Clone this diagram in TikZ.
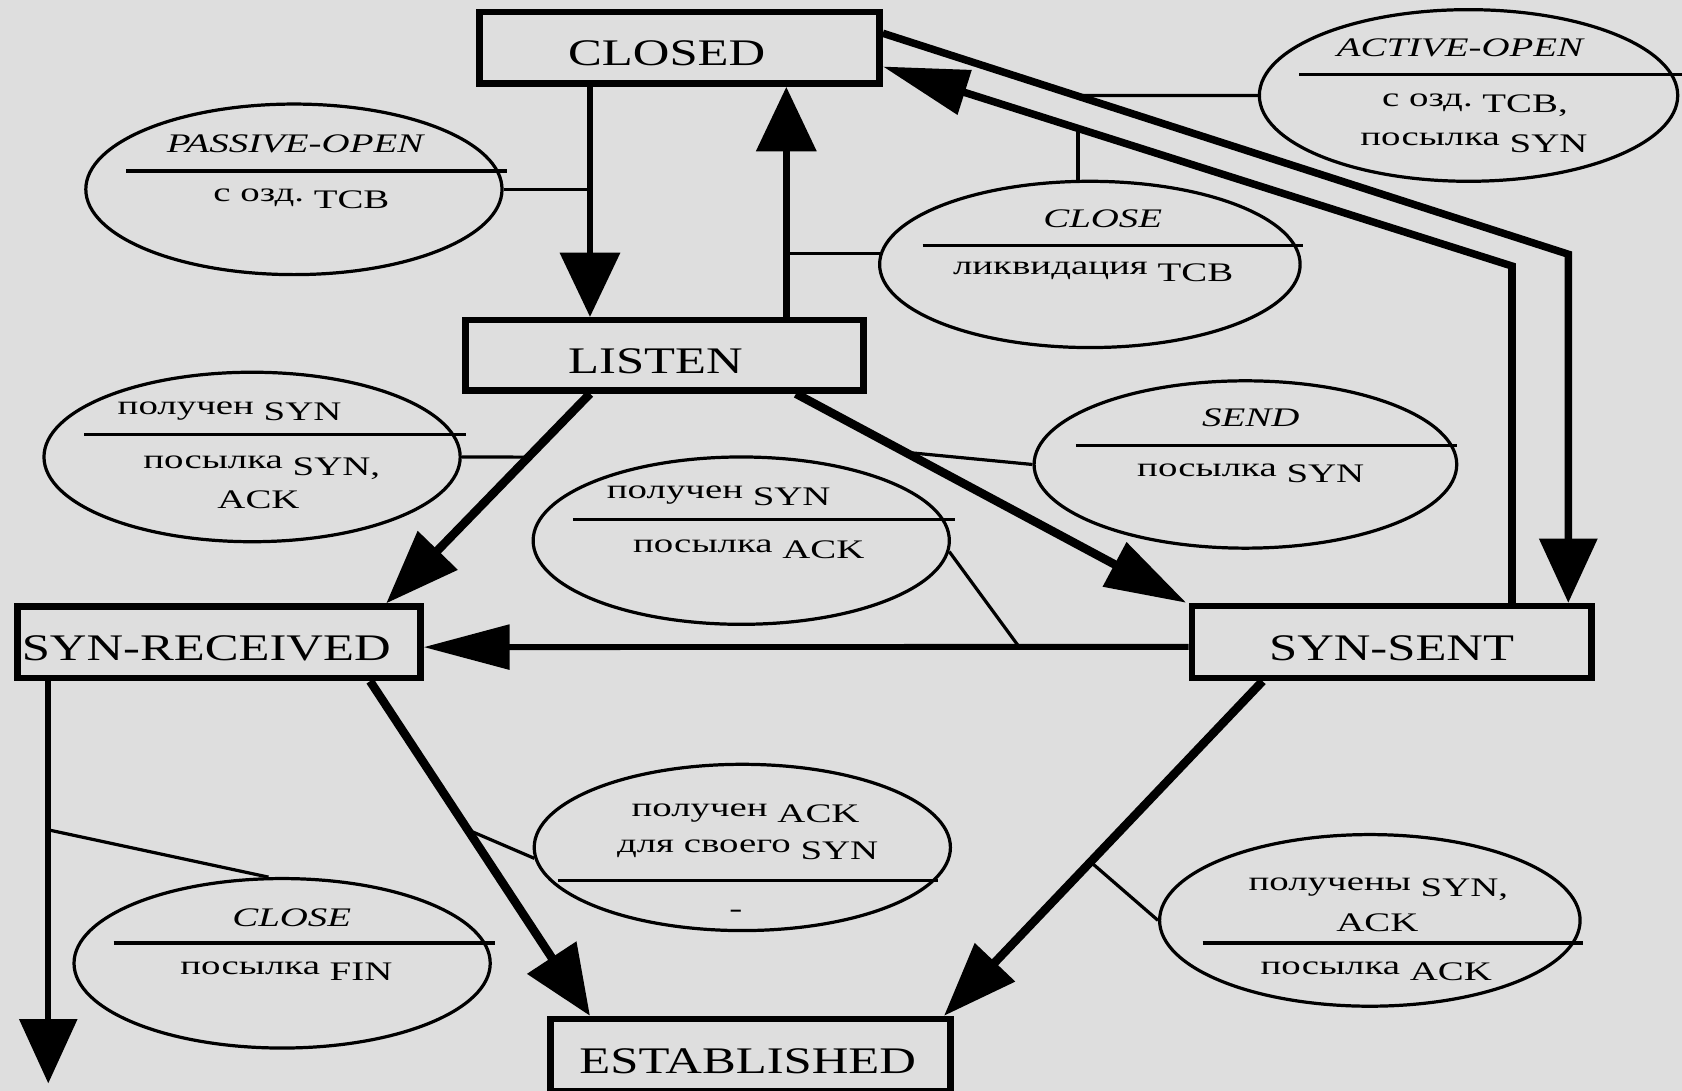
\documentclass[tikz,border=0pt]{standalone}
\usepackage{fontspec}
\usetikzlibrary{arrows.meta,calc,shapes.geometric}
\newfontfamily\boxf[FakeStretch=1.35]{Liberation Serif}
\newfontfamily\ellf[FakeStretch=1.45]{Liberation Serif}
\newcommand\cy[1]{\raisebox{6pt}{#1}}
\definecolor{bg}{RGB}{222,222,222}
\begin{document}
\begin{tikzpicture}[x=1pt,y=-1pt,
 stbox/.style={draw,line width=6pt,rectangle,inner sep=0pt,text height=34pt,text depth=0pt,font=\boxf\fontsize{35}{40}\selectfont},
 ev/.style={draw,line width=3pt,ellipse,inner sep=0pt},
 lbl/.style={anchor=base,inner sep=0pt,font=\ellf\fontsize{25}{30}\selectfont},
 ilbl/.style={anchor=base,inner sep=0pt,font=\ellf\itshape\fontsize{25}{30}\selectfont},
 divl/.style={line width=3pt},
 link/.style={line width=3pt},
 trans/.style={line width=#1,line join=miter},
 arrhead/.style 2 args={-{Triangle[length=#1,width=#2]}}
]
\useasboundingbox (0,0) rectangle (1568,1017);
\fill[bg] (0,0) rectangle (1568,1017);

% states
\node[stbox,minimum width=373pt,minimum height=67pt] (closed) at (633.5,44.5) {CLOSED\kern24pt};
\node[stbox,minimum width=371pt,minimum height=65.5pt] (listen) at (619.5,331.25) {LISTEN\kern17pt};
\node[stbox,minimum width=375.5pt,minimum height=66.5pt] (synrec) at (204.25,598.75) {SYN-RECEIVED\kern24pt};
\node[stbox,minimum width=372.5pt,minimum height=67pt] (synsent) at (1297.25,598.5) {SYN-SENT};
\node[stbox,minimum width=373pt,minimum height=67pt] (established) at (699.5,983.5) {ESTABLISHED\kern5pt};

% event ellipses
\node[ev,minimum width=388pt,minimum height=159pt] (e1) at (274,176.5) {};
\node[ev,minimum width=390pt,minimum height=160pt] (e2) at (1369,89) {};
\node[ev,minimum width=392pt,minimum height=155pt] (e3) at (1016,246.5) {};
\node[ev,minimum width=388pt,minimum height=158pt] (e4) at (235,426) {};
\node[ev,minimum width=394pt,minimum height=156pt] (e5) at (1161,433) {};
\node[ev,minimum width=388pt,minimum height=156pt] (e6) at (691,504) {};
\node[ev,minimum width=388pt,minimum height=155pt] (e7) at (692,790) {};
\node[ev,minimum width=388pt,minimum height=158pt] (e8) at (263,898) {};
\node[ev,minimum width=392pt,minimum height=160pt] (e9) at (1277,858) {};

% dividers
\draw[divl] ($(e1.center)+(-156.5,-17)$) -- ($(e1.center)+(198.5,-17)$);
\draw[divl] ($(e2.center)+(-158,-19.4)$) -- ($(e2.center)+(199,-19.4)$);
\draw[divl] ($(e3.center)+(-156,-18)$) -- ($(e3.center)+(199,-18)$);
\draw[divl] ($(e4.center)+(-156.5,-21)$) -- ($(e4.center)+(199,-21)$);
\draw[divl] ($(e5.center)+(-158,-17.7)$) -- ($(e5.center)+(197,-17.7)$);
\draw[divl] ($(e6.center)+(-157,-19.7)$) -- ($(e6.center)+(199,-19.7)$);
\draw[divl] ($(e7.center)+(-172,30.6)$) -- ($(e7.center)+(182,30.6)$);
\draw[divl] ($(e8.center)+(-157,-19)$) -- ($(e8.center)+(198,-19)$);
\draw[divl] ($(e9.center)+(-156,21)$) -- ($(e9.center)+(199,21)$);

% ellipse texts
\node[ilbl] (t1a) at (275,142) {PASSIVE-OPEN};
\node[lbl] (t1b) at (281,194) {\cy{с озд.} TCB};
\node[ilbl] (t2a) at (1361,53) {ACTIVE-OPEN};
\node[lbl] (t2b) at (1375,105) {\cy{с озд.} TCB,};
\node[lbl] (t2c) at (1374,142) {\cy{посылка} SYN};
\node[ilbl] (t3a) at (1028,212) {CLOSE};
\node[lbl] (t3b) at (1019,262) {\cy{ликвидация} TCB};
\node[ilbl] (t5a) at (1166,398) {SEND};
\node[lbl] (t5b) at (1166,450) {\cy{посылка} SYN};
\node[lbl] (t4a) at (214,392) {\cy{получен} SYN};
\node[lbl] (t4b) at (244,443) {\cy{посылка} SYN,};
\node[lbl] (t4c) at (241,474) {ACK};
\node[lbl] (t6a) at (670,471) {\cy{получен} SYN};
\node[lbl] (t6b) at (698,521) {\cy{посылка} ACK};
\node[lbl] (t7a) at (695,767) {\cy{получен} ACK};
\node[lbl] (t7b) at (697,801) {\cy{для своего} SYN};
\node[lbl] (t7c) at (686,855) {-};
\node[ilbl] (t8a) at (272,864) {CLOSE};
\node[lbl] (t8b) at (267,914) {\cy{посылка} FIN};
\node[lbl] (t9a) at (1285,836) {\cy{получены} SYN,};
\node[lbl] (t9b) at (1284,868) {ACK};
\node[lbl] (t9c) at (1283,914) {\cy{посылка} ACK};

% transition end points
\coordinate (a1s) at ([xshift=106pt]closed.south west);
\coordinate (a1e) at ([xshift=119pt]listen.north west);
\coordinate (a2s) at ([xshift=302pt]listen.north west);
\coordinate (a2e) at ([xshift=289pt]closed.south west);
\coordinate (oS) at ([yshift=-23pt]closed.north east);
\coordinate (bo) at (1462,237);
\coordinate (oE) at ([xshift=-24.5pt]synsent.north east);
\coordinate (iS) at ([xshift=-77pt]synsent.north east);
\coordinate (bi) at (1409.5,248);
\coordinate (iE) at ([yshift=-54pt]closed.north east);
\coordinate (a5s) at ([xshift=119pt]listen.south west);
\coordinate (a5e) at ([xshift=346.5pt]synrec.north west);
\coordinate (a6s) at ([xshift=311pt]listen.south west);
\coordinate (a6e) at ([xshift=-2pt]synsent.north west);
\coordinate (a7s) at ([yshift=-4.5pt]synsent.west);
\coordinate (a7e) at ([yshift=-4.5pt]synrec.east);
\coordinate (a8s) at ([xshift=331.5pt]synrec.south west);
\coordinate (a8e) at ([xshift=40pt]established.north west);
\coordinate (a9s) at ([xshift=69pt]synsent.south west);
\coordinate (a9e) at ([xshift=-9pt]established.north east);
\coordinate (a10s) at ([xshift=31.5pt]synrec.south west);
\coordinate (out) at (45,1010);

% thin links from events to transitions
\coordinate (c2) at ($(oS)!0.2816!(bo)$);
\coordinate (c3) at ($(iE)!0.3103!(bi)$);
\coordinate (c5) at ($(a5s)!0.3026!(a5e)$);
\coordinate (c6) at ($(a6s)!0.28!(a6e)$);
\coordinate (c7) at ($(a7s)!0.2216!(a7e)$);
\coordinate (c8) at ($(a8s)!0.444!(a8e)$);
\coordinate (c9) at ($(a10s)!0.3696!(out)$);
\coordinate (c10) at ($(a9s)!0.54!(a9e)$);
\draw[link] (e1.east) -- (e1.east -| a1s);
\draw[link] (e2.west) -- (c2);
\draw[link] (c3) -- (c3 |- e3.north);
\draw[link] (e3.177) -- (e3.177 -| a2s);
\draw[link] (e4.east) -- (c5);
\draw[link] (e5.west) -- (c6);
\draw[link] (e6.-3) -- (c7);
\draw[link] (e7.183) -- (c8);
\draw[link] (c9) -- (e8.99);
\draw[link] (e9.west) -- (c10);

% transitions
\draw[trans=6.5pt,arrhead={60pt}{55pt}] (a1s) -- (a1e);
\draw[trans=6.5pt,arrhead={60pt}{55pt}] (a2s) -- (a2e);
\draw[trans=7pt,arrhead={60pt}{53pt}] (oS) -- (bo) -- (oE);
\draw[trans=7pt,arrhead={80pt}{42pt}] (iS) -- (bi) -- (iE);
\draw[trans=8pt,arrhead={69pt}{50pt}] (a5s) -- (a5e);
\draw[trans=8pt,arrhead={76pt}{45pt}] (a6s) -- (a6e);
\draw[trans=5.5pt,arrhead={80pt}{41pt}] (a7s) -- (a7e);
\draw[trans=8pt,arrhead={65pt}{53pt}] (a8s) -- (a8e);
\draw[trans=8pt,arrhead={69pt}{50pt}] (a9s) -- (a9e);
\draw[trans=6pt,arrhead={60pt}{53pt}] (a10s) -- (out);
\end{tikzpicture}
\end{document}
